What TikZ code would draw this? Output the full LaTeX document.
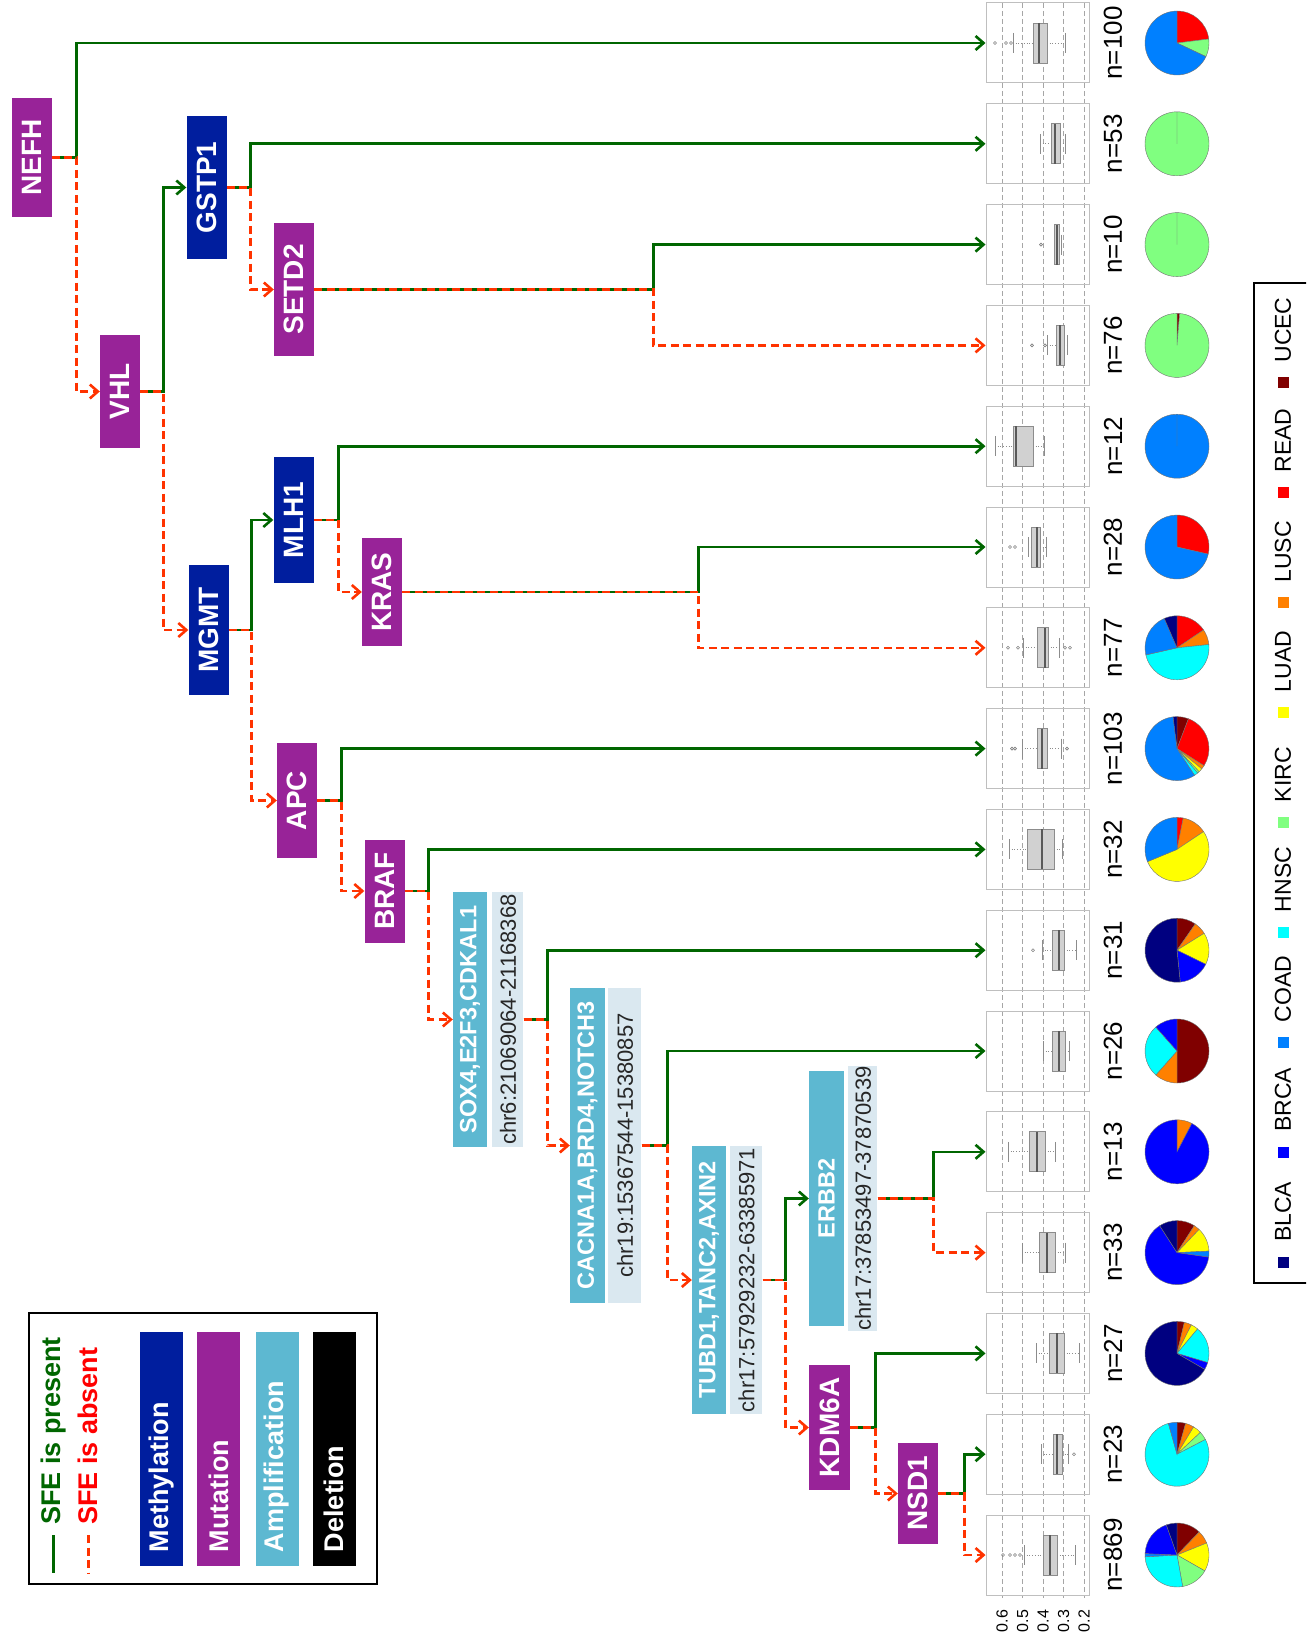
\documentclass[tikz,border=0pt]{standalone}
\usepackage{fontspec}
\setmainfont{Liberation Sans}
\usetikzlibrary{arrows.meta,positioning}

\definecolor{methyl}{HTML}{001E9E}
\definecolor{mutat}{HTML}{982398}
\definecolor{ampli}{HTML}{5DB8D1}
\definecolor{chrbg}{HTML}{DAE8F0}
\definecolor{yesgreen}{HTML}{006600}
\definecolor{nored}{HTML}{FF3300}
% jet colours of the tumour types
\definecolor{blca}{HTML}{000080}
\definecolor{brca}{HTML}{0000FF}
\definecolor{coad}{HTML}{0080FF}
\definecolor{hnsc}{HTML}{00FFFF}
\definecolor{kirc}{HTML}{80FF80}
\definecolor{luad}{HTML}{FFFF00}
\definecolor{lusc}{HTML}{FF8000}
\definecolor{read}{HTML}{FF0000}
\definecolor{ucec}{HTML}{800000}

\tikzset{
  gene/.style={inner sep=0pt, minimum width=40pt, text=white, font=\bfseries\fontsize{28}{30}\selectfont},
  meth/.style={gene, fill=methyl},
  mut/.style={gene, fill=mutat},
  amp/.style={gene, fill=ampli, minimum width=34pt, font=\bfseries\fontsize{23.5}{26}\selectfont},
  region/.style={inner sep=0pt, minimum width=31pt, fill=chrbg, text=black!85, font=\fontsize{22}{24}\selectfont},
  yes/.style={draw=yesgreen, line width=2.6pt, -{Straight Barb[length=8pt,width=14pt]}},
  no/.style={draw=nored, line width=2.6pt, dash pattern=on 8pt off 4.5pt, -{Straight Barb[length=8pt,width=14pt]}},
  bpframe/.style={draw=black!25, line width=1pt, minimum width=103pt, minimum height=80pt, inner sep=0pt},
  grid/.style={draw=black!35, line width=0.8pt, dash pattern=on 5pt off 3pt},
  whisker/.style={draw=black!45, line width=0.7pt, dotted},
  whiskerend/.style={draw=black!45, line width=0.8pt},
  iqr/.style={fill=black!18, draw=black!45, line width=0.8pt},
  median/.style={draw=black!65, line width=1.2pt},
  outlier/.style={draw=black!50, line width=0.6pt},
  nlab/.style={inner sep=0pt, font=\fontsize{26}{28}\selectfont},
  catbox/.style={inner sep=0pt, minimum width=43pt, minimum height=234pt},
  cattext/.style={inner sep=0pt, text=white, font=\bfseries\fontsize{27}{30}\selectfont}
}

\begin{document}
\begin{tikzpicture}[x=1pt,y=-1pt]
	\useasboundingbox (0,0) rectangle (1306,1645);
	\clip (0,0) rectangle (1306,1645);

	\newcommand\bplot[6]{%
		\pgfmathsetmacro\bpy{43+100.8*#1}
		\draw[whisker] (#2,\bpy) -- (#3,\bpy) (#5,\bpy) -- (#6,\bpy);
		\draw[whiskerend] (#2,\bpy-10) -- (#2,\bpy+10) (#6,\bpy-10) -- (#6,\bpy+10);
		\draw[iqr] (#3,\bpy-20) rectangle (#5,\bpy+20);
		\draw[median] (#4,\bpy-20) -- (#4,\bpy+20);
	}
	\newcommand\bout[2]{%
		\pgfmathsetmacro\bpy{43+100.8*#1}
		\foreach \ox in {#2} \draw[outlier] (\ox,\bpy) circle[radius=1.5];
	}
	\newcommand\piechart[3]{%
		\pgfmathsetmacro\piey{43+100.8*#1}
		\gdef\pieA{0}
		\foreach \cnt/\col in {#3} {
			\pgfmathsetmacro\pieB{\pieA+360/#2*\cnt}
			\filldraw[fill=\col, draw=black!55, line width=0.4pt] (1177,\piey) -- ++({\pieA-90}:32) arc[start angle=\pieA-90, end angle=\pieB-90, radius=32] -- cycle;
			\global\let\pieA\pieB
		}
		\node[nlab] (n#1) at (1113,\piey) {\rotatebox{90}{n=#2}};
	}

	% box plot column
	\foreach \k in {0,...,4}
		\draw[grid] (1002+20.5*\k,3) -- (1002+20.5*\k,1598);
	\foreach \i in {0,...,15}
		\node[bpframe] (b\i) at (1037.5,43+100.8*\i) {};
	\foreach \val [count=\k from 0] in {0.6,0.5,0.4,0.3,0.2}
		\node[inner sep=0pt, font=\fontsize{16}{17}\selectfont] (ax\k) at (1002+20.5*\k,1621) {\rotatebox{90}{\val}};

	\bplot{0}{1013}{1033}{1039}{1047}{1065}   \bout{0}{995,1006,1011}
	\bplot{1}{1040}{1051}{1055}{1060}{1065}
	\bplot{2}{1054}{1054}{1057}{1059}{1061}   \bout{2}{1041}
	\bplot{3}{1047}{1056}{1060}{1064}{1067}   \bout{3}{1032,1045}
	\bplot{4}{995}{1013}{1016}{1033}{1044}
	\bplot{5}{1028}{1031}{1037}{1040}{1046}   \bout{5}{1010,1015}
	\bplot{6}{1023}{1037}{1045}{1048}{1059}   \bout{6}{1008,1018,1065,1070}
	\bplot{7}{1022}{1037}{1042}{1047}{1061}   \bout{7}{1012,1015,1067}
	\bplot{8}{1009}{1027}{1042}{1054}{1062}
	\bplot{9}{1042}{1052}{1059}{1064}{1076}   \bout{9}{1033}
	\bplot{10}{1043}{1052}{1059}{1065}{1069}
	\bplot{11}{1008}{1029}{1037}{1045}{1055}
	\bplot{12}{1022}{1039}{1047}{1055}{1065}
	\bplot{13}{1036}{1049}{1057}{1064}{1079}
	\bplot{14}{1041}{1053}{1057}{1062}{1068}  \bout{14}{1074}
	\bplot{15}{1024}{1043}{1050}{1057}{1075}  \bout{15}{1003,1010,1015,1020}

	% pies, clockwise from the top
	\piechart{0}{100}{23/read,9/kirc,68/coad}
	\piechart{1}{53}{53/kirc}
	\piechart{2}{10}{10/kirc}
	\piechart{3}{76}{1/ucec,75/kirc}
	\piechart{4}{12}{12/coad}
	\piechart{5}{28}{8/read,20/coad}
	\piechart{6}{77}{12/read,6/lusc,37/hnsc,17/coad,5/blca}
	\piechart{7}{103}{6/ucec,29/read,2/lusc,2/luad,1/kirc,2/hnsc,59/coad,2/blca}
	\piechart{8}{32}{1/read,4/lusc,17/luad,10/coad}
	\piechart{9}{31}{3/ucec,2/lusc,5/luad,5/brca,16/blca}
	\piechart{10}{26}{13/ucec,3/lusc,7/hnsc,3/brca}
	\piechart{11}{13}{1/lusc,12/brca}
	\piechart{12}{33}{3/ucec,1/lusc,4/luad,1/coad,21/brca,3/blca}
	\piechart{13}{27}{1/ucec,1/lusc,1/luad,5/hnsc,1/brca,18/blca}
	\piechart{14}{23}{1/ucec,1/lusc,1/luad,1/kirc,18/hnsc,1/coad}
	\piechart{15}{869}{106/ucec,58/lusc,125/luad,121/kirc,234/hnsc,14/coad,164/brca,47/blca}

	% tree
	\node[mut, minimum height=119pt] (nefh) at (31.5,157.5) {\rotatebox{90}{NEFH}};
	\node[mut, minimum height=113pt] (vhl) at (120,391.5) {\rotatebox{90}{VHL}};
	\node[meth, minimum height=143pt] (gstp1) at (206.5,187.5) {\rotatebox{90}{GSTP1}};
	\node[mut, minimum height=133pt] (setd2) at (294,289.5) {\rotatebox{90}{SETD2}};
	\node[meth, minimum height=130pt] (mgmt) at (208.5,630) {\rotatebox{90}{MGMT}};
	\node[meth, minimum height=126pt] (mlh1) at (293.5,520) {\rotatebox{90}{MLH1}};
	\node[mut, minimum height=108pt] (kras) at (382,592) {\rotatebox{90}{KRAS}};
	\node[mut, minimum height=115pt] (apc) at (297,800.5) {\rotatebox{90}{APC}};
	\node[mut, minimum height=103pt] (braf) at (384.5,891) {\rotatebox{90}{BRAF}};
	\node[amp, minimum height=255pt] (sox4) at (470,1019.5) {\rotatebox{90}{SOX4,E2F3,CDKAL1}};
	\node[region, minimum height=255pt, right=5pt of sox4] (chr6) {\rotatebox{90}{chr6:21069064-21168368}};
	\node[amp, minimum width=35pt, minimum height=315pt] (cacna) at (587.5,1145.5) {\rotatebox{90}{CACNA1A,BRD4,NOTCH3}};
	\node[region, minimum width=33pt, minimum height=315pt, right=3pt of cacna] (chr19) {\rotatebox{90}{chr19:15367544-15380857}};
	\node[amp, minimum height=268pt] (tubd1) at (709,1280) {\rotatebox{90}{TUBD1,TANC2,AXIN2}};
	\node[region, minimum width=32pt, minimum height=268pt, right=4pt of tubd1] (chr17a) {\rotatebox{90}{chr17:57929232-63385971}};
	\node[amp, minimum width=35pt, minimum height=255pt] (erbb2) at (826.5,1198.5) {\rotatebox{90}{ERBB2}};
	\node[region, minimum width=29pt, minimum height=255pt, right=4pt of erbb2] (chr17b) {\rotatebox{90}{chr17:37853497-37870539}};
	\node[mut, minimum width=41pt, minimum height=125pt] (kdm6a) at (829.5,1427.5) {\rotatebox{90}{KDM6A}};
	\node[mut, minimum height=101pt] (nsd1) at (918,1493.5) {\rotatebox{90}{NSD1}};

	\draw[yes] (nefh.east) -- ++(25,0) |- (b0);
	\draw[no] (nefh.east) -- ++(25,0) |- (vhl);
	\draw[yes] (vhl.east) -- ++(23,0) |- (gstp1);
	\draw[no] (vhl.east) -- ++(23,0) |- (mgmt);
	\draw[yes] (gstp1.east) -- ++(24,0) |- (b1);
	\draw[no] (gstp1.east) -- ++(24,0) |- (setd2);
	\draw[yes] (setd2.east) -- ++(339,0) |- (b2);
	\draw[no] (setd2.east) -- ++(339,0) |- (b3);
	\draw[yes] (mgmt.east) -- ++(23,0) |- (mlh1);
	\draw[no] (mgmt.east) -- ++(23,0) |- (apc);
	\draw[yes] (mlh1.east) -- ++(25,0) |- (b4);
	\draw[no] (mlh1.east) -- ++(25,0) |- (kras);
	\draw[yes] (kras.east) -- ++(296,0) |- (b5);
	\draw[no] (kras.east) -- ++(296,0) |- (b6);
	\draw[yes] (apc.east) -- ++(24,0) |- (b7);
	\draw[no] (apc.east) -- ++(24,0) |- (braf);
	\draw[yes] (braf.east) -- ++(24,0) |- (b8);
	\draw[no] (braf.east) -- ++(24,0) |- (sox4);
	\draw[yes] (chr6.east) -- ++(24,0) |- (b9);
	\draw[no] (chr6.east) -- ++(24,0) |- (cacna);
	\draw[yes] (chr19.east) -- ++(26,0) |- (b10);
	\draw[no] (chr19.east) -- ++(26,0) |- (tubd1);
	\draw[yes] (chr17a.east) -- ++(23,0) |- (erbb2);
	\draw[no] (chr17a.east) -- ++(23,0) |- (kdm6a);
	\draw[yes] (chr17b.east) -- ++(56,0) |- (b11);
	\draw[no] (chr17b.east) -- ++(56,0) |- (b12);
	\draw[yes] (kdm6a.east) -- ++(25,0) |- (b13);
	\draw[no] (kdm6a.east) -- ++(25,0) |- (nsd1);
	\draw[yes] (nsd1.east) -- ++(26,0) |- (b14);
	\draw[no] (nsd1.east) -- ++(26,0) |- (b15);

	% legend, left
	\draw[line width=2pt] (29,1313) rectangle (377,1584);
	\node[anchor=south, inner sep=0pt, text=yesgreen, font=\bfseries\fontsize{27}{30}\selectfont] (present) at (54,1525) {\rotatebox{90}{SFE is present}};
	\node[anchor=south, inner sep=0pt, text=red, font=\bfseries\fontsize{27}{30}\selectfont] (absent) at (88,1525) {\rotatebox{90}{SFE is absent}};
	\draw[yesgreen, line width=3pt] (53,1535) -- (53,1573);
	\draw[nored, line width=3pt, dash pattern=on 8pt off 4.5pt] (88,1535) -- (88,1573);
	\node[catbox, fill=methyl] (methbox) at (161.5,1449) {};
	\node[catbox, fill=mutat] (mutbox) at (218.5,1449) {};
	\node[catbox, fill=ampli] (ampbox) at (277,1449) {};
	\node[catbox, fill=black] (delbox) at (334,1449) {};
	\node[cattext, above=14pt of methbox.south] (methtxt) {\rotatebox{90}{Methylation}};
	\node[cattext, above=14pt of mutbox.south] (muttxt) {\rotatebox{90}{Mutation}};
	\node[cattext, above=14pt of ampbox.south] (amptxt) {\rotatebox{90}{Amplification}};
	\node[cattext, above=14pt of delbox.south] (deltxt) {\rotatebox{90}{Deletion}};

	% legend, right
	\draw[line width=2pt] (1254,283) rectangle (1330,1283);
	\foreach \lab/\col [count=\k from 0] in {BLCA/blca,BRCA/brca,COAD/coad,HNSC/hnsc,KIRC/kirc,LUAD/luad,LUSC/lusc,READ/read,UCEC/ucec} {
		\pgfmathsetmacro\ly{1262-109.9*\k}
		\fill[\col] (1277.5,\ly-5.5) rectangle ++(11,11);
		\node[anchor=south, inner sep=0pt, font=\fontsize{23}{26}\selectfont] (lg\k) at (1283,\ly-20) {\rotatebox{90}{\lab}};
	}
\end{tikzpicture}
\end{document}
